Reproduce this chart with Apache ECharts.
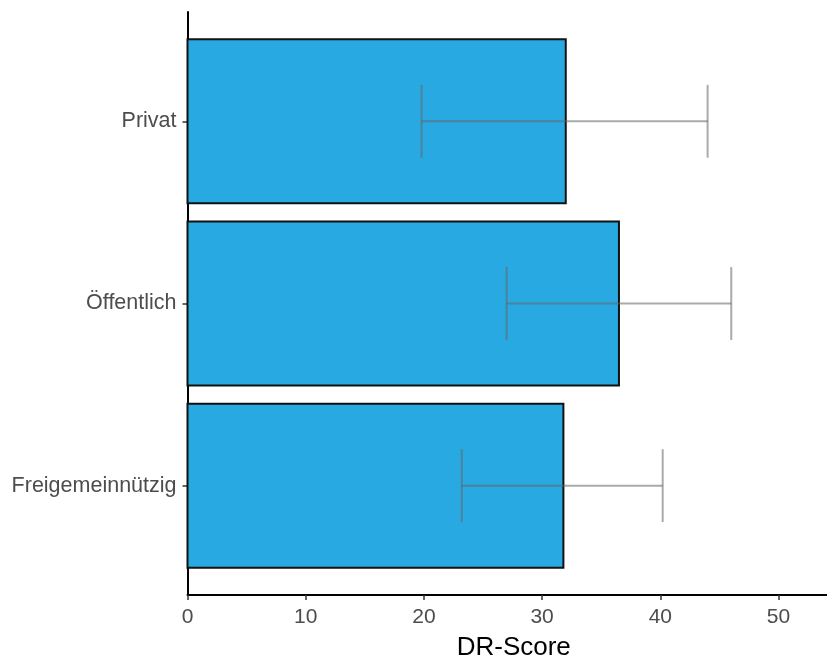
<!DOCTYPE html>
<html>
<head>
<meta charset="utf-8">
<script src="https://cdn.jsdelivr.net/npm/echarts@6/dist/echarts.min.js"></script>
<style>
  html, body { margin: 0; padding: 0; background: #fff; }
  #chart { width: 827px; height: 658px; }
</style>
</head>
<body>
<div id="chart"></div>
<script>
// Mean DR-Score per ownership type, with error bar bounds
const categories = ['Privat', 'Öffentlich', 'Freigemeinnützig'];
const meanScore = [32.0, 36.5, 31.8];
const lowerBound = [19.8, 27.0, 23.2];
const upperBound = [44.0, 46.0, 40.2];
const xTicks = [0, 10, 20, 30, 40, 50];

const rows = categories.map((c, i) => [meanScore[i], lowerBound[i], upperBound[i], i]);

const BAR_FRAC = 0.9;  // bar thickness as share of category spacing
const CAP_FRAC = 0.4;  // error cap length as share of category spacing
const FONT = 'Liberation Sans, Arial, sans-serif';

const chart = echarts.init(document.getElementById('chart'), null, { renderer: 'canvas' });

chart.setOption({
  animation: false,
  backgroundColor: '#ffffff',
  textStyle: { fontFamily: FONT },
  grid: { left: 187.5, right: 0, top: 12, bottom: 63, containLabel: false, outerBoundsMode: 'none' },
  xAxis: {
    type: 'value',
    min: 0,
    max: 54.1,
    interval: 10,
    name: 'DR-Score',
    nameLocation: 'middle',
    nameGap: 40,
    nameTextStyle: { fontSize: 26, color: '#000000', fontFamily: FONT, padding: [0, 0, 0, 13] },
    axisLine: { show: true, onZero: false, lineStyle: { color: '#000000', width: 2 } },
    axisTick: { show: true, length: 5, customValues: xTicks, lineStyle: { color: '#333333', width: 1.5 } },
    axisLabel: { fontSize: 21, color: '#4d4d4d', margin: 12, fontFamily: FONT,
                 customValues: xTicks, formatter: v => String(v) },
    splitLine: { show: false }
  },
  yAxis: {
    type: 'value',
    min: -0.6,
    max: 2.6,
    inverse: true,
    axisLine: { show: true, onZero: false, lineStyle: { color: '#000000', width: 2 } },
    axisTick: { show: true, length: 5, customValues: [0, 1, 2], lineStyle: { color: '#333333', width: 1.5 } },
    axisLabel: {
      show: true,
      customValues: [0, 1, 2],
      fontSize: 21.5,
      color: '#4d4d4d',
      fontFamily: FONT,
      margin: 11,
      formatter: v => categories[Math.round(v)] || ''
    },
    splitLine: { show: false }
  },
  series: [
    {
      // bar for the mean, with the error bar drawn on top of it
      type: 'custom',
      name: 'DR-Score',
      data: rows,
      encode: { x: [0, 1, 2], y: 3 },
      renderItem: (params, api) => {
        const idx = api.value(3);
        const start = api.coord([0, idx]);
        const end = api.coord([api.value(0), idx]);
        const lo = api.coord([api.value(1), idx]);
        const hi = api.coord([api.value(2), idx]);
        const band = api.size([0, 1])[1];
        const h = band * BAR_FRAC;
        const c = band * CAP_FRAC / 2;
        const st = { stroke: 'rgba(100,100,100,0.55)', lineWidth: 2 };
        return {
          type: 'group',
          children: [
            {
              type: 'rect', z2: 1,
              shape: { x: start[0], y: start[1] - h / 2, width: end[0] - start[0], height: h },
              style: { fill: '#29a9e1', stroke: '#111111', lineWidth: 2 }
            },
            { type: 'line', z2: 5, shape: { x1: lo[0], y1: lo[1], x2: hi[0], y2: hi[1] }, style: st },
            { type: 'line', z2: 5, shape: { x1: lo[0], y1: lo[1] - c, x2: lo[0], y2: lo[1] + c }, style: st },
            { type: 'line', z2: 5, shape: { x1: hi[0], y1: hi[1] - c, x2: hi[0], y2: hi[1] + c }, style: st }
          ]
        };
      }
    }
  ]
});
</script>
</body>
</html>
